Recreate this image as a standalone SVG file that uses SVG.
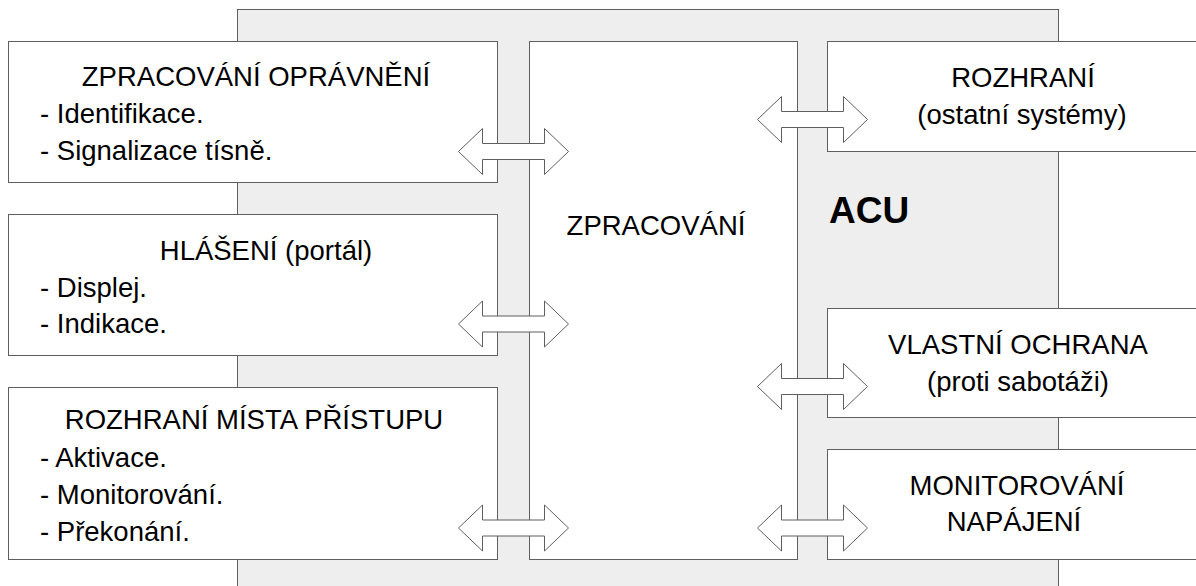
<svg xmlns="http://www.w3.org/2000/svg" width="1196" height="586" viewBox="0 0 1196 586">
<style>
.bg{fill:#eeeeee;stroke:#5f5f5f;stroke-width:1}
.box{fill:#ffffff;stroke:#5f5f5f;stroke-width:1}
.arr{fill:#ffffff;stroke:#5f5f5f;stroke-width:1;stroke-linejoin:miter}
text{font-family:"Liberation Sans",Arial,sans-serif;font-size:27.5px;fill:#000000}
.c{text-anchor:middle}
.b{font-weight:bold;font-size:37px}
</style>
<defs>
<path id="dblarrow" d="M0,0 L24,-23 L24,-8 L86,-8 L86,-23 L110,0 L86,23 L86,8 L24,8 L24,23 Z"/>
</defs>
<g id="acu">
<rect class="bg" x="237.5" y="9.5" width="821" height="600"/>
<text class="b" x="829" y="223">ACU</text>
</g>
<g id="zpracovani">
<rect class="box" x="529.5" y="41.5" width="268" height="518"/>
<text class="c" x="656" y="235">ZPRACOVÁNÍ</text>
</g>
<g id="zpracovani-opravneni">
<rect class="box" x="8.5" y="41.5" width="489" height="141"/>
<text class="c" x="256" y="86">ZPRACOVÁNÍ OPRÁVNĚNÍ</text>
<text x="40" y="123">- Identifikace.</text>
<text x="40" y="160">- Signalizace tísně.</text>
</g>
<g id="hlaseni">
<rect class="box" x="8.5" y="214.5" width="489" height="141"/>
<text class="c" x="266" y="260">HLÁŠENÍ (portál)</text>
<text x="40" y="297">- Displej.</text>
<text x="40" y="333">- Indikace.</text>
</g>
<g id="rozhrani-mista-pristupu">
<rect class="box" x="8.5" y="387.5" width="489" height="172"/>
<text class="c" x="254" y="429">ROZHRANÍ MÍSTA PŘÍSTUPU</text>
<text x="40" y="467">- Aktivace.</text>
<text x="40" y="504">- Monitorování.</text>
<text x="40" y="541">- Překonání.</text>
</g>
<g id="rozhrani">
<rect class="box" x="827.5" y="41.5" width="400" height="110"/>
<text class="c" x="1023" y="87">ROZHRANÍ</text>
<text class="c" x="1022" y="124">(ostatní systémy)</text>
</g>
<g id="vlastni-ochrana">
<rect class="box" x="827.5" y="308.5" width="400" height="109"/>
<text class="c" x="1018" y="354">VLASTNÍ OCHRANA</text>
<text class="c" x="1018" y="391">(proti sabotáži)</text>
</g>
<g id="monitorovani-napajeni">
<rect class="box" x="827.5" y="449.5" width="400" height="110"/>
<text class="c" x="1017" y="495">MONITOROVÁNÍ</text>
<text class="c" x="1014" y="531">NAPÁJENÍ</text>
</g>
<g id="connectors">
<use href="#dblarrow" class="arr" transform="translate(458.5,151.5)"/>
<use href="#dblarrow" class="arr" transform="translate(458.5,324)"/>
<use href="#dblarrow" class="arr" transform="translate(458.5,528)"/>
<use href="#dblarrow" class="arr" transform="translate(757.5,119.5)"/>
<use href="#dblarrow" class="arr" transform="translate(757.5,386.5)"/>
<use href="#dblarrow" class="arr" transform="translate(757.5,528)"/>
</g>
</svg>
